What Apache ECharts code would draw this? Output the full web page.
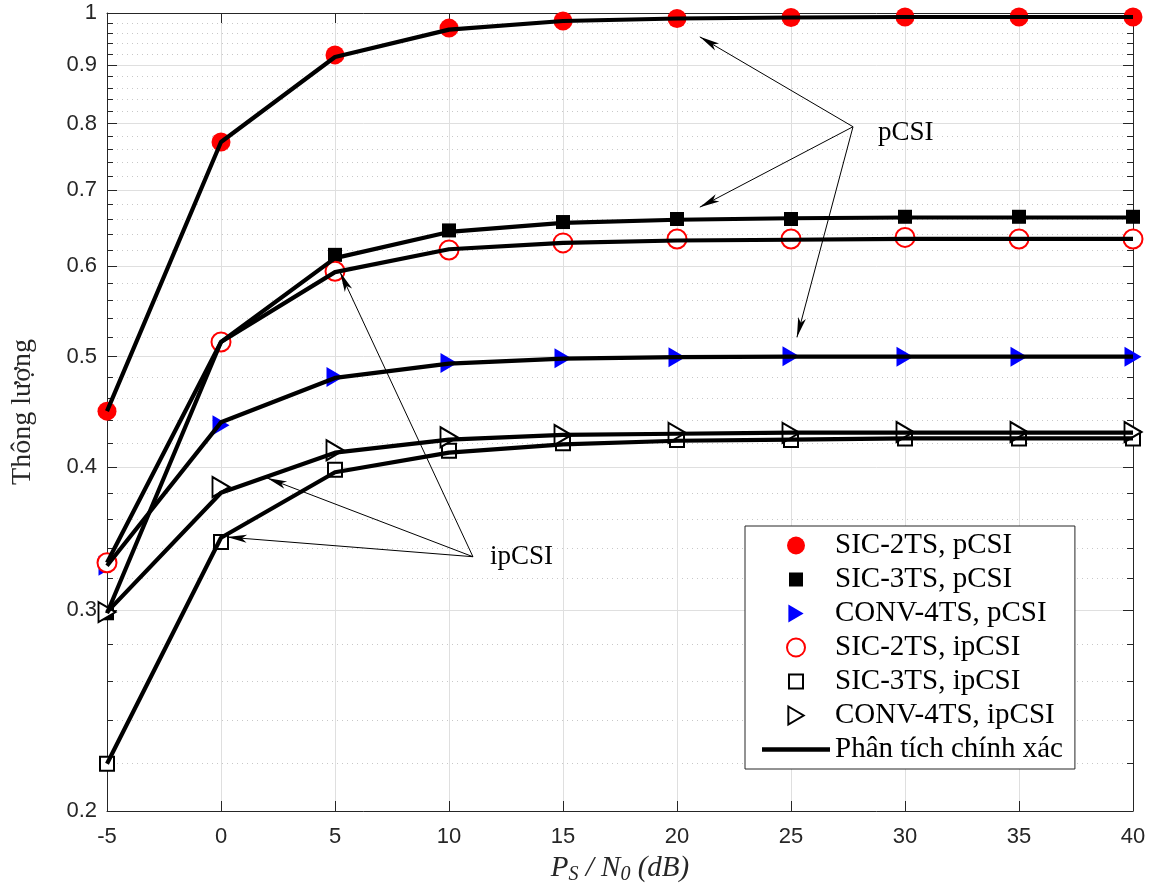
<!DOCTYPE html>
<html>
<head>
<meta charset="utf-8">
<script src="https://cdn.jsdelivr.net/npm/echarts@6/dist/echarts.min.js"></script>
<style>
html,body{margin:0;padding:0;background:#fff;}
#chart{width:1158px;height:894px;}
</style>
</head>
<body>
<div id="chart"></div>
<script>
// ---- data ----
const xValues = [-5, 0, 5, 10, 15, 20, 25, 30, 35, 40];
const yMajorTicks = [0.2, 0.3, 0.4, 0.5, 0.6, 0.7, 0.8, 0.9, 1];
const yMinorTicks = [0.22, 0.24, 0.26, 0.28, 0.32, 0.34, 0.36, 0.38, 0.42, 0.44, 0.46, 0.48,
  0.52, 0.54, 0.56, 0.58, 0.62, 0.64, 0.66, 0.68, 0.72, 0.74, 0.76, 0.78,
  0.82, 0.84, 0.86, 0.88, 0.92, 0.94, 0.96, 0.98];

// simulation markers
const simSIC2p  = [0.448, 0.771, 0.919, 0.970, 0.984, 0.989, 0.991, 0.992, 0.992, 0.992];
const simSIC3p  = [0.298, 0.515, 0.614, 0.645, 0.656, 0.660, 0.660, 0.663, 0.663, 0.663];
const simCONV4p = [0.328, 0.4355, 0.480, 0.4936, 0.4985, 0.4995, 0.5005, 0.500, 0.500, 0.500];
const simSIC2ip = [0.330, 0.515, 0.594, 0.620, 0.629, 0.634, 0.634, 0.636, 0.634, 0.634];
const simSIC3ip = [0.220, 0.344, 0.398, 0.4135, 0.420, 0.4226, 0.4226, 0.424, 0.424, 0.424];
const simCONV4ip = [0.2987, 0.3844, 0.414, 0.425, 0.427, 0.4288, 0.4288, 0.4295, 0.4295, 0.4295];

// analytical (exact) curves
const anaSIC2p  = [0.448, 0.771, 0.915, 0.967, 0.984, 0.989, 0.991, 0.992, 0.992, 0.992];
const anaSIC3p  = [0.298, 0.515, 0.610, 0.643, 0.655, 0.659, 0.661, 0.662, 0.662, 0.662];
const anaCONV4p = [0.328, 0.438, 0.479, 0.493, 0.498, 0.4995, 0.500, 0.500, 0.500, 0.500];
const anaSIC2ip = [0.330, 0.515, 0.593, 0.621, 0.629, 0.632, 0.633, 0.634, 0.634, 0.634];
const anaSIC3ip = [0.220, 0.347, 0.396, 0.412, 0.419, 0.422, 0.423, 0.424, 0.424, 0.424];
const anaCONV4ip = [0.2987, 0.380, 0.412, 0.423, 0.427, 0.428, 0.429, 0.429, 0.429, 0.429];

// annotations
const pcsiFrom = [27.72, 0.795];
const pcsiTo = [[21.0, 0.953], [21.0, 0.676], [25.26, 0.520]];
const pcsiLabelAt = [28.82, 0.785];
const ipcsiFrom = [11.05, 0.334];
const ipcsiTo = [[5.22, 0.593], [2.02, 0.3915], [0.26, 0.3475]];
const ipcsiLabelAt = [11.8, 0.334];

const legendNames = ['SIC-2TS, pCSI', 'SIC-3TS, pCSI', 'CONV-4TS, pCSI',
  'SIC-2TS, ipCSI', 'SIC-3TS, ipCSI', 'CONV-4TS, ipCSI', 'Phân tích chính xác'];

// ---- build ----
const L = v => Math.log10(v);
const toPts = arr => xValues.map((x, i) => arr[i] == null ? null : [x, L(arr[i])]).filter(p => p);
const yMin = L(0.2), yMax = 0;
const majorLog = yMajorTicks.map(L);
const minorLog = yMinorTicks.map(L);
const AX = '#262626';
const SANS = 'Liberation Sans';
const SERIF = 'Liberation Serif';
const triPath = 'path://M0,0L17,10L0,20Z';
const sqIcon = 'path://M0,0M18,18M2,2L16,2L16,16L2,16Z';
const lineIcon = 'path://M0,0L68,0L68,4.5L0,4.5Z';

function yAxisBase(extra) {
  const base = {
    type: 'value', min: yMin, max: yMax,
    axisLine: {show: false, onZero: false}, axisLabel: {show: false},
    splitLine: {show: false}, axisTick: {show: false}
  };
  const out = Object.assign(base, extra);
  out.axisLine = Object.assign({onZero: false}, out.axisLine);
  return out;
}

const lineStyleAna = {color: '#000', width: 4.2};
function anaSeries(arr, extra) {
  return Object.assign({
    name: 'Phân tích chính xác', type: 'line', data: toPts(arr),
    symbol: 'none', lineStyle: lineStyleAna, itemStyle: {color: '#000'},
    z: 5, silent: true
  }, extra || {});
}

const option = {
  animation: false,
  backgroundColor: '#fff',
  grid: {left: 107, right: 25, top: 13, bottom: 83, containLabel: false},
  legend: {
    orient: 'vertical', left: 745, top: 526,
    padding: [5, 12, 5, 17],
    backgroundColor: '#fff', borderColor: AX, borderWidth: 1,
    itemWidth: 68, itemHeight: 18, itemGap: 5,
    textStyle: {fontFamily: SERIF, fontSize: 29, color: '#000'},
    selectedMode: false,
    data: [
      {name: legendNames[0], icon: 'circle', itemStyle: {color: '#ff0000', borderWidth: 0, opacity: 1}},
      {name: legendNames[1], icon: sqIcon, itemStyle: {color: '#000', borderWidth: 0, opacity: 1}},
      {name: legendNames[2], icon: triPath, itemStyle: {color: '#0000ff', borderWidth: 0, opacity: 1}},
      {name: legendNames[3], icon: 'circle', itemStyle: {color: '#fff', borderColor: '#ff0000', borderWidth: 2, opacity: 1}},
      {name: legendNames[4], icon: sqIcon, itemStyle: {color: '#fff', borderColor: '#000', borderWidth: 2, opacity: 1}},
      {name: legendNames[5], icon: triPath, itemStyle: {color: '#fff', borderColor: '#000', borderWidth: 2, opacity: 1}},
      {name: legendNames[6], icon: lineIcon, itemStyle: {color: '#000', borderWidth: 0, opacity: 1}}
    ]
  },
  xAxis: [
    {
      type: 'value', position: 'bottom', min: -5, max: 40, interval: 5,
      axisLine: {show: true, onZero: false, lineStyle: {color: AX, width: 1}},
      axisTick: {show: true, inside: true, length: 10, lineStyle: {color: AX, width: 1}},
      axisLabel: {fontFamily: SANS, fontSize: 22, color: AX, margin: 15},
      splitLine: {show: true, lineStyle: {color: '#dfdfdf', width: 1}},
      name: '{a|P}{s|S}{a| / N}{s|0}{a| (dB)}',
      nameLocation: 'middle', nameGap: 40,
      nameTextStyle: {
        rich: {
          a: {fontFamily: SERIF, fontStyle: 'italic', fontSize: 29, color: AX, lineHeight: 34, verticalAlign: 'middle'},
          s: {fontFamily: SERIF, fontStyle: 'italic', fontSize: 20, color: AX, lineHeight: 20, verticalAlign: 'bottom'}
        }
      }
    },
    {
      type: 'value', position: 'top', min: -5, max: 40, interval: 5,
      axisLine: {show: true, onZero: false, lineStyle: {color: AX, width: 1}},
      axisTick: {show: true, inside: true, length: 10, lineStyle: {color: AX, width: 1}},
      axisLabel: {show: false}, splitLine: {show: false}
    }
  ],
  yAxis: [
    yAxisBase({
      position: 'left',
      axisLine: {show: true, onZero: false, lineStyle: {color: AX, width: 1}},
      axisTick: {show: true, inside: true, length: 10, customValues: majorLog, lineStyle: {color: AX, width: 1}},
      axisLabel: {show: true, customValues: majorLog, fontFamily: SANS, fontSize: 22, color: AX, margin: 10,
        formatter: v => { const r = Math.round(Math.pow(10, v) * 10) / 10; return r === 1 ? '1' : r.toFixed(1); }},
      splitLine: {show: true, lineStyle: {color: '#dfdfdf', width: 1}},
      name: 'Thông lượng', nameLocation: 'middle', nameGap: 70,
      nameTextStyle: {fontFamily: SERIF, fontSize: 28, color: AX}
    }),
    yAxisBase({
      position: 'right',
      axisLine: {show: true, onZero: false, lineStyle: {color: AX, width: 1}},
      axisTick: {show: true, inside: true, length: 10, customValues: majorLog, lineStyle: {color: AX, width: 1}}
    }),
    yAxisBase({
      position: 'left',
      axisTick: {show: true, inside: true, length: 6, customValues: minorLog, lineStyle: {color: AX, width: 1}},
      splitLine: {show: true, lineStyle: {color: '#c8c8c8', width: 1, type: [1, 4]}}
    }),
    yAxisBase({
      position: 'right',
      axisTick: {show: true, inside: true, length: 6, customValues: minorLog, lineStyle: {color: AX, width: 1}}
    })
  ],
  series: [
    {name: legendNames[0], type: 'scatter', data: toPts(simSIC2p), symbol: 'circle', symbolSize: 19,
      itemStyle: {color: '#ff0000', opacity: 1}, z: 2, clip: false, silent: true},
    {name: legendNames[1], type: 'scatter', data: toPts(simSIC3p), symbol: 'rect', symbolSize: 14,
      itemStyle: {color: '#000', opacity: 1}, z: 2, clip: false, silent: true},
    {name: legendNames[2], type: 'scatter', data: toPts(simCONV4p), symbol: triPath, symbolSize: [17, 20],
      itemStyle: {color: '#0000ff', opacity: 1}, z: 2, clip: false, silent: true},
    {name: legendNames[3], type: 'scatter', data: toPts(simSIC2ip), symbol: 'circle', symbolSize: 19,
      itemStyle: {color: '#fff', borderColor: '#ff0000', borderWidth: 2, opacity: 1}, z: 3, clip: false, silent: true},
    {name: legendNames[4], type: 'scatter', data: toPts(simSIC3ip), symbol: 'rect', symbolSize: 14,
      itemStyle: {color: '#fff', borderColor: '#000', borderWidth: 2, opacity: 1}, z: 3, clip: false, silent: true},
    {name: legendNames[5], type: 'scatter', data: toPts(simCONV4ip), symbol: triPath, symbolSize: [17, 20],
      itemStyle: {color: '#fff', borderColor: '#000', borderWidth: 2, opacity: 1}, z: 3, clip: false, silent: true},
    anaSeries(anaSIC2p, {
      markLine: {
        silent: true, animation: false, symbol: ['none', 'arrow'], symbolSize: [6, 20],
        lineStyle: {color: '#000', width: 1, type: 'solid'},
        label: {show: false},
        data: pcsiTo.map(t => [{coord: [pcsiFrom[0], L(pcsiFrom[1])]}, {coord: [t[0], L(t[1])]}])
          .concat(ipcsiTo.map(t => [{coord: [ipcsiFrom[0], L(ipcsiFrom[1])]}, {coord: [t[0], L(t[1])]}]))
      },
      markPoint: {
        silent: true, animation: false, symbol: 'circle', symbolSize: 0,
        label: {show: true, position: 'right', distance: 0, formatter: '{b}', fontFamily: SERIF, fontSize: 27, color: '#000'},
        data: [
          {name: 'pCSI', coord: [pcsiLabelAt[0], L(pcsiLabelAt[1])]},
          {name: 'ipCSI', coord: [ipcsiLabelAt[0], L(ipcsiLabelAt[1])]}
        ]
      }
    }),
    anaSeries(anaSIC3p),
    anaSeries(anaCONV4p),
    anaSeries(anaSIC2ip),
    anaSeries(anaSIC3ip),
    anaSeries(anaCONV4ip)
  ]
};

const chart = echarts.init(document.getElementById('chart'), null, {renderer: 'canvas'});
chart.setOption(option);
</script>
</body>
</html>
